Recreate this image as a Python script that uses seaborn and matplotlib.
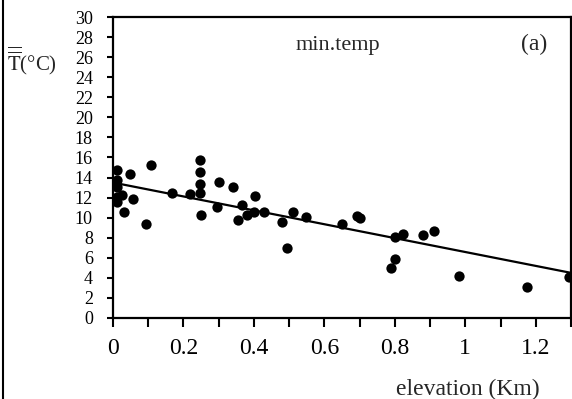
import pandas as pd
import seaborn as sns
import matplotlib.pyplot as plt
from matplotlib.ticker import MultipleLocator

# elevation (Km) and mean minimum temperature (deg C)
elev = [0.011, 0.011, 0.011, 0.011, 0.011, 0.025, 0.03, 0.048, 0.057, 0.094,
        0.108, 0.168, 0.219, 0.247, 0.247, 0.247, 0.247, 0.25, 0.295, 0.30,
        0.341, 0.355, 0.366, 0.38, 0.40, 0.404, 0.43, 0.48, 0.495, 0.51,
        0.548, 0.65, 0.693, 0.70, 0.79, 0.80, 0.80, 0.823, 0.88, 0.91,
        0.983, 1.176, 1.295]
tmin = [14.8, 13.8, 13.1, 12.1, 11.6, 12.3, 10.6, 14.4, 11.9, 9.4,
        15.2, 12.5, 12.4, 15.7, 14.6, 13.4, 12.5, 10.3, 11.1, 13.6,
        13.1, 9.8, 11.3, 10.3, 10.6, 12.2, 10.6, 9.6, 7.0, 10.6,
        10.1, 9.4, 10.2, 10.0, 5.0, 5.9, 8.1, 8.4, 8.3, 8.7,
        4.2, 3.1, 4.1]

# fitted line end points
trend_x = [0.0, 1.3]
trend_y = [13.5, 4.5]

x_ticks = [0, 0.2, 0.4, 0.6, 0.8, 1.0, 1.2]
x_labels = ['0', '0.2', '0.4', '0.6', '0.8', '1', '1.2']
y_ticks = list(range(0, 31, 2))


def plot(df, line):
    sns.set_style("ticks")
    plt.rcParams['font.family'] = ['Liberation Serif', 'DejaVu Serif']
    plt.rcParams['mathtext.fontset'] = 'stix'

    fig = plt.figure(figsize=(5.72, 3.99), dpi=100)
    ax = fig.add_axes([113 / 572, 1 - 318 / 399, 458 / 572, 301 / 399])

    sns.scatterplot(data=df, x='elev', y='tmin', ax=ax, color='black',
                    s=55, edgecolor='black', linewidth=0, clip_on=False,
                    legend=False)
    sns.lineplot(data=line, x='x', y='y', ax=ax, color='black', lw=1.6)

    ax.set_xlim(0, 1.3)
    ax.set_ylim(0, 30)
    ax.set_xticks(x_ticks)
    ax.set_xticklabels(x_labels)
    ax.xaxis.set_minor_locator(MultipleLocator(0.1))
    ax.set_yticks(y_ticks)
    ax.set_xlabel('')
    ax.set_ylabel('')

    for sp in ax.spines.values():
        sp.set_visible(True)
        sp.set_linewidth(1.6)
        sp.set_color('black')
    ax.tick_params(axis='x', which='both', direction='out', length=6.5,
                   width=1.5, labelsize=17, pad=8, colors='black')
    ax.tick_params(axis='y', direction='out', length=4.5, width=1.5,
                   labelsize=13, pad=10, colors='black')

    ax.text((338 - 113) / 458, 1 - (50 - 17) / 301, 'min.temp',
            transform=ax.transAxes, ha='center', va='baseline', fontsize=16)
    ax.text((534 - 113) / 458, 1 - (44 - 17) / 301, '(a)',
            transform=ax.transAxes, ha='center', va='center', fontsize=17)

    fig.text(7 / 572, 1 - 70 / 399, r'$\overline{\overline{\mathrm{T}}}$(°C)',
             ha='left', va='baseline', fontsize=15)
    fig.text(468 / 572, 1 - 389 / 399, 'elevation (Km)',
             ha='center', va='center', fontsize=17)

    # scan frame line on the left
    fig.add_artist(plt.Line2D([3 / 572, 3 / 572], [0, 1],
                              transform=fig.transFigure, color='black', lw=1.5))

    fig.savefig('out.png', dpi=100)
    plt.close(fig)


df = pd.DataFrame({'elev': elev, 'tmin': tmin})
line = pd.DataFrame({'x': trend_x, 'y': trend_y})
plot(df, line)
